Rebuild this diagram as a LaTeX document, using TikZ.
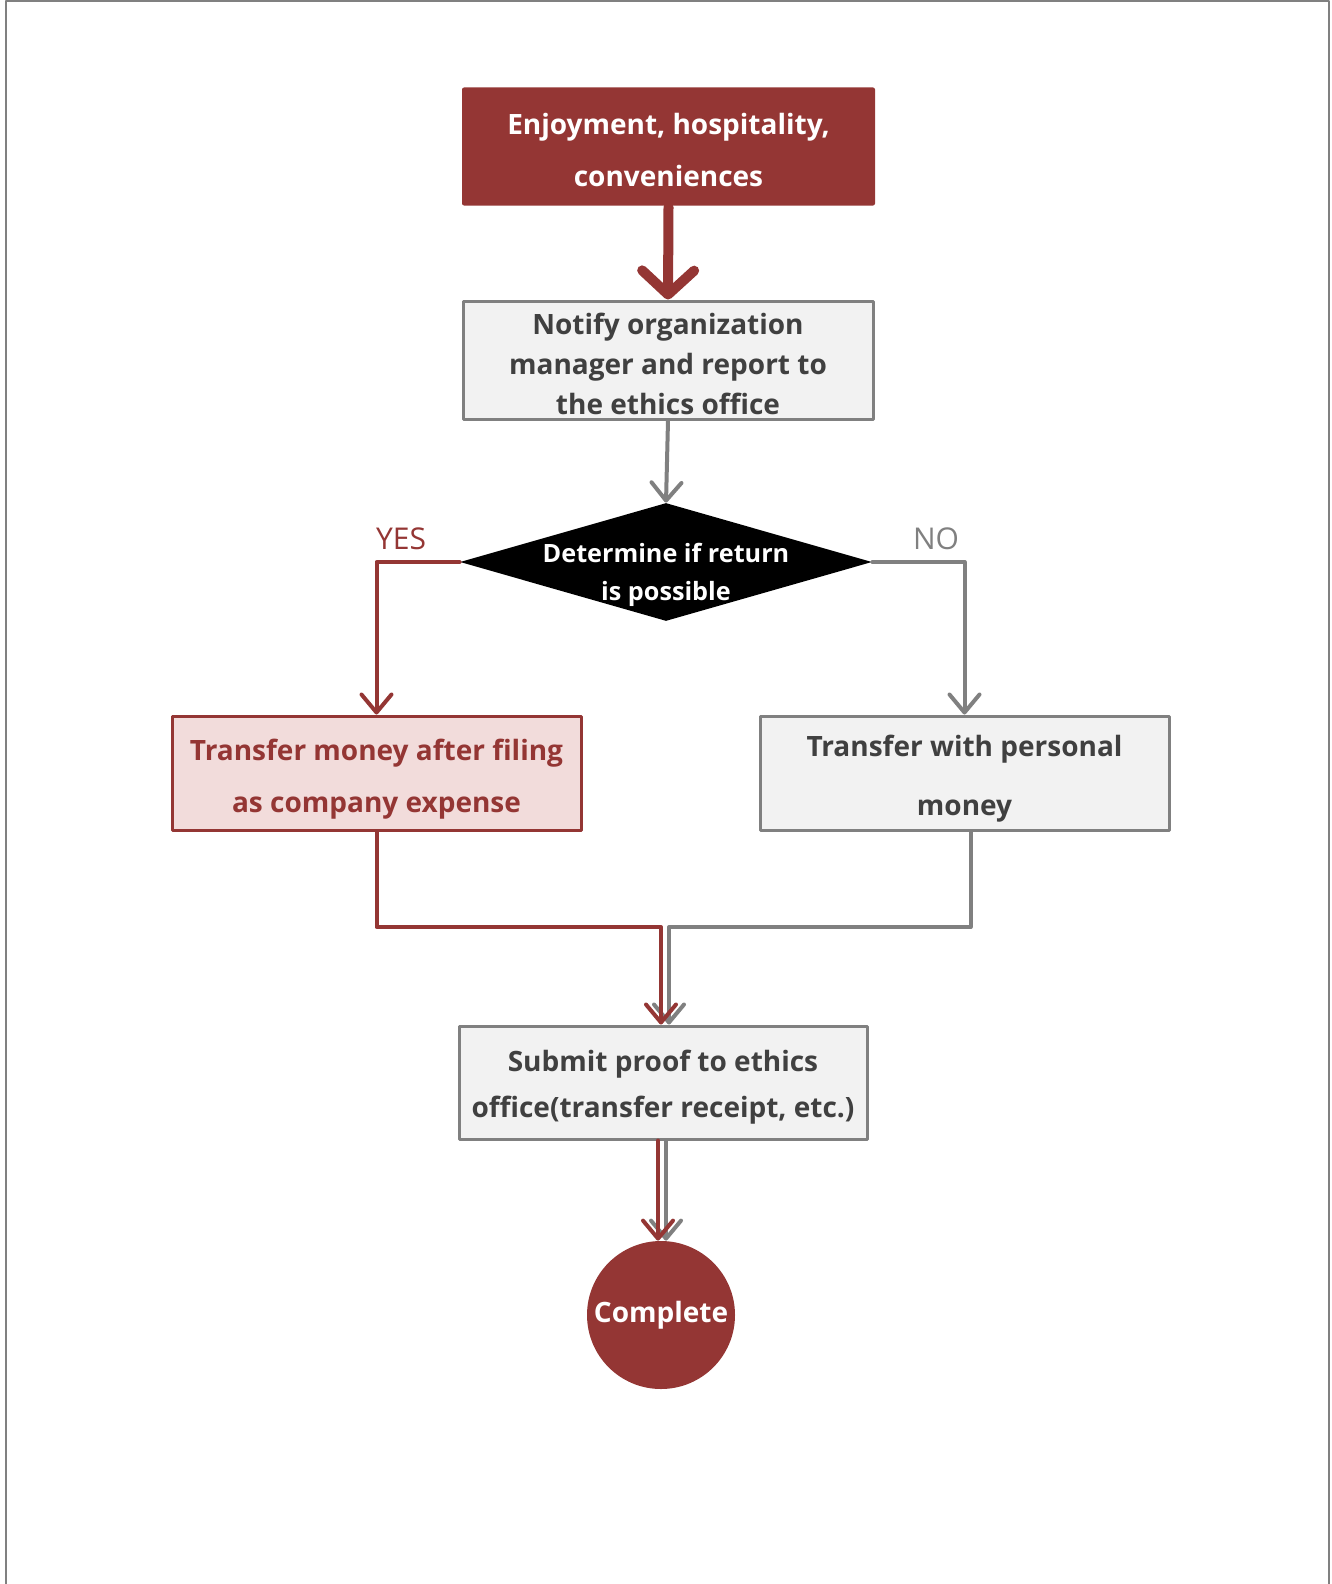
\documentclass[tikz,border=0pt]{standalone}
\usepackage{fontspec}
\setmainfont{Open Sans}
\usetikzlibrary{arrows.meta,shapes.geometric}
\definecolor{wine}{HTML}{943634}
\definecolor{rosefill}{HTML}{F2DCDB}
\definecolor{ashline}{HTML}{808080}
\definecolor{ashfill}{HTML}{F2F2F2}
\definecolor{inktext}{HTML}{404040}
\newcommand{\padtop}[1]{\rule{0pt}{#1}}
\begin{document}
\begin{tikzpicture}[x=0.5pt,y=-0.5pt,line join=round,line cap=round]
	\tikzset{
		box/.style={rectangle,draw=ashline,fill=ashfill,line width=1.5pt,minimum width=205pt,minimum height=58pt,
			inner sep=0pt,align=center,text=inktext,font=\bfseries\fontsize{14}{20}\selectfont},
		redbox/.style={box,draw=wine,fill=rosefill,text=wine,font=\bfseries\fontsize{14}{26}\selectfont},
		startbox/.style={box,draw=none,fill=wine,text=white,rounded corners=1pt,font=\bfseries\fontsize{14}{26}\selectfont},
		decide/.style={diamond,fill=black,minimum width=206pt,minimum height=59pt,inner sep=0pt},
		finish/.style={circle,fill=wine,minimum size=74pt,inner sep=0pt,text=white,font=\bfseries\fontsize{14}{17}\selectfont},
		tip/.style={-{Straight Barb[length=9pt,width=15pt,line cap=round,line join=round]}},
		grayline/.style={tip,draw=ashline,line width=2pt},
		redline/.style={tip,draw=wine,line width=2pt},
		bigline/.style={draw=wine,line width=5pt,-{Straight Barb[length=12pt,width=26pt,line cap=round,line join=round]}}
	}
	\useasboundingbox (0,0) rectangle (1332,1584);
	% frame
	\draw[ashline,line width=1pt] (6,1584)--(6,1)--(1329,1)--(1329,1584);
	% boxes
	\node[startbox,minimum width=206.5pt,minimum height=59pt] (src) at (668.5,146.5) {\padtop{13.7pt}Enjoyment, hospitality,\\conveniences};
	\node[box,minimum height=59pt] (note) at (668,360) {\padtop{14.7pt}Notify organization\\manager and report to\\the ethics office};
	\node[decide] (dec) at (666,562) {};
	\node[text=white,align=center,font=\bfseries\fontsize{12.6}{19}\selectfont] (dectxt) at (dec) {\padtop{22.5pt}Determine if return\\is possible};
	\node[text=wine,font=\fontsize{15}{17}\selectfont] (yes) at (401,539) {YES};
	\node[text=ashline,font=\fontsize{15}{17}\selectfont] (no) at (936,539) {NO};
	\node[redbox,minimum width=204.5pt,minimum height=57pt] (comp) at (376.5,773) {\padtop{16.7pt}Transfer money after filing\\as company expense};
	\node[box,minimum width=204.5pt,minimum height=57pt,font=\bfseries\fontsize{14}{29.5}\selectfont] (pers) at (964.5,773) {\padtop{16.7pt}Transfer with personal\\money};
	\node[box,minimum width=204pt,minimum height=56.5pt,font=\bfseries\fontsize{14}{23}\selectfont] (sub) at (663,1082.5) {\padtop{15.7pt}Submit proof to ethics\\office(transfer receipt, etc.)};
	\node[finish] (done) at (661,1315) {Complete};
	\coordinate (mid) at (663,927);
	% connectors
	\draw[bigline] (src.south)--(note.north);
	\draw[grayline] (note.south)--(dec.north);
	\draw[redline] (dec.west)-|(comp.north);
	\draw[grayline] (dec.east)-|(pers.north);
	\draw[grayline] ([xshift=3pt]pers.south)|-([xshift=3pt]mid)--([xshift=3pt]sub.north);
	\draw[redline] (comp.south)|-([xshift=-1pt]mid)--([xshift=-1pt]sub.north);
	\draw[grayline] ([xshift=1.5pt]sub.south)--([xshift=1.5pt]sub.south|-done.north);
	\draw[redline] ([xshift=-2.5pt]sub.south)--([xshift=-2.5pt]sub.south|-done.north);
\end{tikzpicture}
\end{document}
